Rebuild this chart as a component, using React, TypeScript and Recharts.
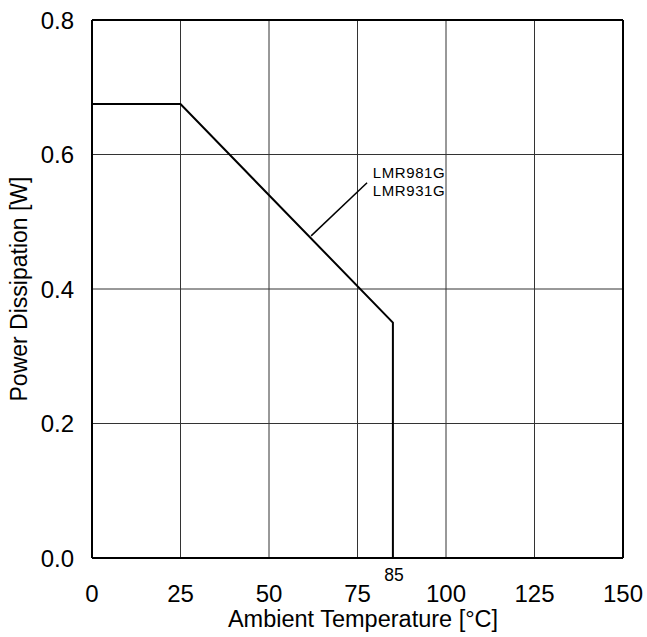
import React from "react";
import {
  LineChart,
  Line,
  XAxis,
  YAxis,
  ReferenceLine,
  ReferenceDot,
} from "recharts";

// Power derating curve: flat up to 25 °C, linear down to 85 °C, then cut off
const temperature = [0, 25, 85, 85];
const power = [0.675, 0.675, 0.35, 0];

const xTicks = [0, 25, 50, 75, 85, 100, 125, 150];
const yTicks = [0, 0.2, 0.4, 0.6, 0.8];
const xGrid = [25, 50, 75, 100, 125];
const yGrid = [0.2, 0.4, 0.6];

const partNames = ["LMR981G", "LMR931G"];
// leader line from the curve to the part-name callout
const leader = [
  { x: 61.9, y: 0.479 },
  { x: 77.7, y: 0.558 },
];
const calloutAt = { x: 79.3, y: 0.565 };

const data = temperature.map((t, i) => ({ t, p: power[i] }));

const FONT = "'Liberation Sans', Arial, Helvetica, sans-serif";

const XTick = (props: any) => {
  const { x, y, payload } = props;
  const special = payload.value === 85;
  return (
    <text
      x={x + (special ? 1 : 0)}
      y={special ? y + 15 : y + 36}
      textAnchor="middle"
      fontSize={special ? 17.5 : 24}
      fontFamily={FONT}
      fill="#000"
    >
      {payload.value}
    </text>
  );
};

const YTick = (props: any) => {
  const { y, payload } = props;
  return (
    <text
      x={74}
      y={y + 8.5}
      textAnchor="end"
      fontSize={24}
      fontFamily={FONT}
      fill="#000"
    >
      {Number(payload.value).toFixed(1)}
    </text>
  );
};

const Callout = (props: any) => {
  const { cx, cy } = props;
  return (
    <text
      x={cx}
      y={cy}
      fontSize={15}
      letterSpacing={0.6}
      fontFamily={FONT}
      fill="#000"
    >
      {partNames.map((n, i) => (
        <tspan key={n} x={cx} dy={i === 0 ? 0 : 18.2}>
          {n}
        </tspan>
      ))}
    </text>
  );
};

export default function App() {
  return (
    <div style={{ position: "absolute", left: 0, top: 0, background: "#fff" }}>
      <LineChart
        width={647}
        height={637}
        data={data}
        margin={{ top: 20, right: 24, bottom: 19, left: 32 }}
      >
        <XAxis
          dataKey="t"
          type="number"
          domain={[0, 150]}
          ticks={xTicks}
          tick={<XTick />}
          tickLine={false}
          axisLine={false}
          height={60}
          interval={0}
        />
        <YAxis
          type="number"
          domain={[0, 0.8]}
          ticks={yTicks}
          tick={<YTick />}
          tickLine={false}
          axisLine={false}
          width={60}
          interval={0}
        />
        {xGrid.map((v) => (
          <ReferenceLine key={"x" + v} x={v} stroke="#333" strokeWidth={1} />
        ))}
        {yGrid.map((v) => (
          <ReferenceLine key={"y" + v} y={v} stroke="#333" strokeWidth={1} />
        ))}
        {/* plot frame */}
        <ReferenceLine x={0} stroke="#000" strokeWidth={2} />
        <ReferenceLine x={150} stroke="#000" strokeWidth={2} />
        <ReferenceLine y={0} stroke="#000" strokeWidth={2} />
        <ReferenceLine y={0.8} stroke="#000" strokeWidth={2} />
        <Line
          type="linear"
          dataKey="p"
          stroke="#000"
          strokeWidth={2}
          dot={false}
          isAnimationActive={false}
        />
        <ReferenceLine
          segment={leader}
          stroke="#000"
          strokeWidth={1.5}
          ifOverflow="visible"
        />
        <ReferenceDot
          x={calloutAt.x}
          y={calloutAt.y}
          r={0}
          shape={<Callout />}
          ifOverflow="visible"
        />
      </LineChart>
      <svg
        width={647}
        height={637}
        style={{ position: "absolute", left: 0, top: 0, pointerEvents: "none" }}
      >
        <text
          x={363}
          y={627}
          textAnchor="middle"
          fontSize={23.5}
          fontFamily={FONT}
        >
          Ambient Temperature [°C]
        </text>
        <text
          transform="translate(27,289) rotate(-90)"
          textAnchor="middle"
          fontSize={23}
          fontFamily={FONT}
        >
          Power Dissipation [W]
        </text>
      </svg>
    </div>
  );
}
